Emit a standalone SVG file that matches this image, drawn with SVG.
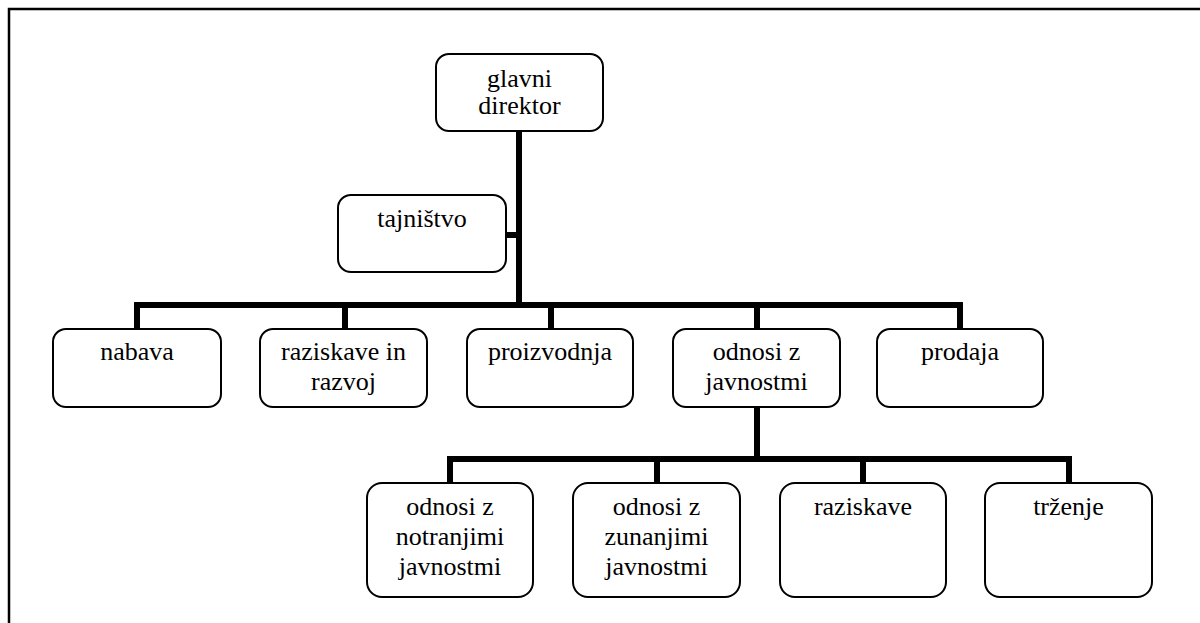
<svg xmlns="http://www.w3.org/2000/svg" width="1200" height="623" viewBox="0 0 1200 623">
  <style>
    .box { fill: #ffffff; stroke: #000000; stroke-width: 2; }
    .lbl { font-family: "Liberation Serif", "Times New Roman", serif; font-size: 26px; fill: #000000; text-anchor: middle; }
    .wire { fill: none; stroke: #000000; stroke-width: 6; stroke-linecap: butt; stroke-linejoin: miter; }
    .frame { fill: none; stroke: #000000; stroke-width: 2.5; }
  </style>

  <rect x="0" y="0" width="1200" height="623" fill="#ffffff"/>
  <!-- page frame (open on right and bottom) -->
  <path class="frame" d="M9,623 V9 H1200"/>

  <!-- connectors -->
  <g id="connectors">
    <path class="wire" d="M519,132 V305"/>
    <path class="wire" d="M506,235 H519"/>
    <path class="wire" d="M137,329 V305 H960 V329"/>
    <path class="wire" d="M345,305 V329"/>
    <path class="wire" d="M551,305 V329"/>
    <path class="wire" d="M757,305 V329"/>
    <path class="wire" d="M757,407 V459"/>
    <path class="wire" d="M450,483 V459 H1069 V483"/>
    <path class="wire" d="M657,459 V483"/>
    <path class="wire" d="M863,459 V483"/>
  </g>

  <g id="glavni-direktor">
    <rect class="box" x="436" y="54" width="167" height="77" rx="13"/>
    <text class="lbl" x="519.5" y="87">glavni</text>
    <text class="lbl" x="519.5" y="114">direktor</text>
  </g>

  <g id="tajnistvo">
    <rect class="box" x="338" y="195" width="168" height="77" rx="13"/>
    <text class="lbl" x="422" y="227">tajništvo</text>
  </g>

  <g id="nabava">
    <rect class="box" x="53" y="329" width="168" height="78" rx="13"/>
    <text class="lbl" x="137" y="360">nabava</text>
  </g>

  <g id="raziskave-in-razvoj">
    <rect class="box" x="260" y="329" width="167" height="78" rx="13"/>
    <text class="lbl" x="343.5" y="360">raziskave in</text>
    <text class="lbl" x="343.5" y="390">razvoj</text>
  </g>

  <g id="proizvodnja">
    <rect class="box" x="467" y="329" width="166" height="78" rx="13"/>
    <text class="lbl" x="550" y="360">proizvodnja</text>
  </g>

  <g id="odnosi-z-javnostmi">
    <rect class="box" x="673" y="329" width="167" height="78" rx="13"/>
    <text class="lbl" x="756.5" y="360">odnosi z</text>
    <text class="lbl" x="756.5" y="390">javnostmi</text>
  </g>

  <g id="prodaja">
    <rect class="box" x="877" y="329" width="166" height="78" rx="13"/>
    <text class="lbl" x="960" y="360">prodaja</text>
  </g>

  <g id="odnosi-notranje">
    <rect class="box" x="367" y="483" width="166" height="114" rx="15"/>
    <text class="lbl" x="450" y="515">odnosi z</text>
    <text class="lbl" x="450" y="545">notranjimi</text>
    <text class="lbl" x="450" y="575">javnostmi</text>
  </g>

  <g id="odnosi-zunanje">
    <rect class="box" x="573" y="483" width="167" height="114" rx="15"/>
    <text class="lbl" x="656.5" y="515">odnosi z</text>
    <text class="lbl" x="656.5" y="545">zunanjimi</text>
    <text class="lbl" x="656.5" y="575">javnostmi</text>
  </g>

  <g id="raziskave">
    <rect class="box" x="780" y="483" width="166" height="114" rx="15"/>
    <text class="lbl" x="863" y="515">raziskave</text>
  </g>

  <g id="trzenje">
    <rect class="box" x="985" y="483" width="167" height="114" rx="15"/>
    <text class="lbl" x="1068.5" y="515">trženje</text>
  </g>
</svg>
